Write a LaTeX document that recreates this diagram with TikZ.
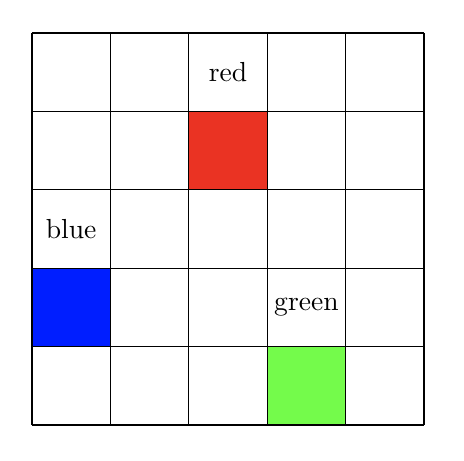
\documentclass[tikz,border=0pt]{standalone}
\definecolor{cellred}{RGB}{234,51,35}
\definecolor{cellblue}{RGB}{0,30,255}
\definecolor{cellgreen}{RGB}{116,251,75}
\tikzset{gridline/.style={line width=0.4pt, black}}
\begin{document}
\begin{tikzpicture}
\useasboundingbox (-0.408,-0.446) rectangle (5.51,5.421);
\fill[cellred] (2,3) rectangle (3,4);
\fill[cellblue] (0,1) rectangle (1,2);
\fill[cellgreen] (3,0) rectangle (4,1);
\draw[gridline] (0,0) grid (5,5);
\node (red) at (2.5,4.5) {red};
\node (blue) at (0.5,2.5) {blue};
\node (green) at (3.5,1.5) {green};
\end{tikzpicture}
\end{document}
